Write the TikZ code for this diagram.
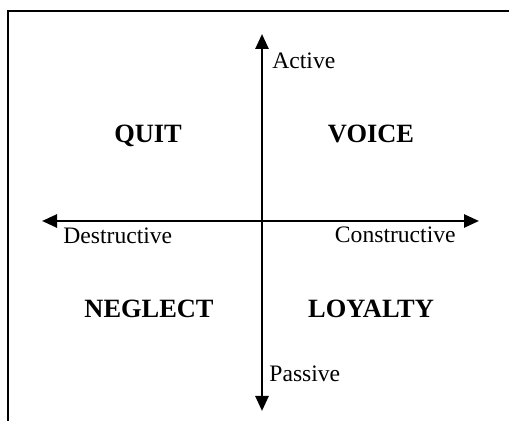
\documentclass[tikz,border=0pt]{standalone}
\usepackage{fontspec}
\setmainfont{Liberation Serif}
\usetikzlibrary{arrows.meta}
\begin{document}
\begin{tikzpicture}[x=0.5pt,y=-0.5pt,
  frame/.style={line width=0.8pt},
  axis/.style={line width=1.3pt,{Triangle[length=7.5pt,width=6.5pt]}-{Triangle[length=7.5pt,width=6.5pt]}},
  pole/.style={inner sep=0pt,font=\fontsize{11.8}{13}\selectfont},
  quadrant/.style={inner sep=0pt,anchor=base,font=\fontsize{13.2}{15}\selectfont\bfseries}]
\useasboundingbox (0,0) rectangle (509,421);
% open frame: top and left edges
\coordinate (fl) at (8,421);
\coordinate (fc) at (8,11);
\coordinate (fr) at (509,11);
\draw[frame] (fl) -- (fc) -- (fr);
% axis end points
\coordinate (top) at (262,34);
\coordinate (bottom) at (262,411);
\coordinate (left) at (42,221);
\coordinate (right) at (479,221);
\draw[axis] (bottom) -- (top);
\draw[axis] (left) -- (right);
% pole labels
\node[pole,anchor=base west] (active) at (272,69) {Active};
\node[pole,anchor=base west] (passive) at (269,382) {Passive};
\node[pole,anchor=base west] (destr) at (63,244) {Destructive};
\node[pole,anchor=base east] (constr) at (456,243) {Constructive};
% quadrant labels
\node[quadrant] (quit) at (148,143) {QUIT};
\node[quadrant] (voice) at (371,143) {VOICE};
\node[quadrant] (neglect) at (149,318) {NEGLECT};
\node[quadrant] (loyalty) at (371,318) {LOYALTY};
\end{tikzpicture}
\end{document}
